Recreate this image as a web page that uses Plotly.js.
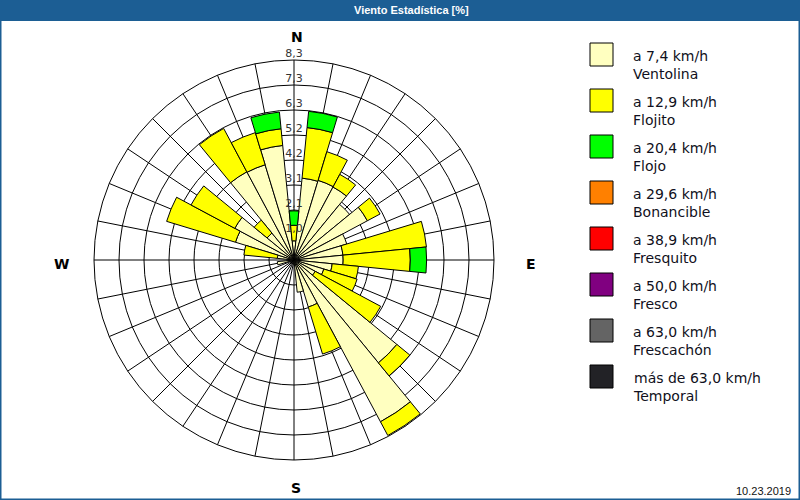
<!DOCTYPE html>
<html><head><meta charset="utf-8">
<script src="https://cdn.plot.ly/plotly-3.0.1.min.js"></script>
<style>html,body{margin:0;padding:0;background:#fff}#chart{width:800px;height:500px}</style>
</head><body><div id="chart"></div>
<script>
// ---- data ----
const directions = [0, 11.25, 22.5, 33.75, 45, 56.25, 67.5, 78.75, 90, 101.25, 112.5, 123.75, 135, 146.25, 157.5, 168.75,
                    180, 191.25, 202.5, 213.75, 225, 236.25, 247.5, 258.75, 270, 281.25, 292.5, 303.75, 315, 326.25, 337.5, 348.75];
const ventolina = [0.80, 3.43, 3.47, 3.45, 3.00, 3.47, 2.30, 2.05, 2.05, 1.60, 1.30, 1.00, 5.55, 7.65, 2.05, 1.35,
                   0.20, 0, 0, 0, 0, 0, 0, 0.70, 0.30, 0.70, 2.55, 2.80, 1.45, 4.17, 4.15, 4.80];
const flojito   = [0.65, 2.12, 1.25, 0.60, 0, 0.60, 0, 3.50, 2.80, 1.10, 1.45, 3.10, 0.70, 0.65, 2.05, 0,
                   0, 0, 0, 0, 0, 0, 0, 0, 0, 1.40, 3.00, 2.07, 0.70, 2.05, 1.40, 0.70];
const flojo     = [0.60, 0.68, 0, 0, 0, 0, 0, 0, 0.68, 0, 0, 0, 0, 0, 0, 0,
                   0, 0, 0, 0, 0, 0, 0, 0, 0, 0, 0, 0, 0, 0, 0, 0.70];

const seriesLimits = ['a 7,4 km/h', 'a 12,9 km/h', 'a 20,4 km/h', 'a 29,6 km/h', 'a 38,9 km/h', 'a 50,0 km/h', 'a 63,0 km/h', 'más de 63,0 km/h'];
const seriesNames  = ['Ventolina', 'Flojito', 'Flojo', 'Bonancible', 'Fresquito', 'Fresco', 'Frescachón', 'Temporal'];
const seriesColors = ['#ffffc0', '#ffff00', '#00ff00', '#ff8000', '#ff0000', '#800080', '#646464', '#222226'];

const radialMax = 8.34;
const radialTicks = [1.0425, 2.085, 3.1275, 4.17, 5.2125, 6.255, 7.2975, 8.34];
const radialTickText = ['1,0', '2,1', '3,1', '4,2', '5,2', '6,3', '7,3', '8,3'];

const compassText = ['N', 'E', 'S', 'W'];
const chartTitle = 'Viento Estadística [%]';
const dateText = '10.23.2019';

// ---- helpers ----
const W = 800, H = 500;
const px = x => x / W;
const py = y => 1 - y / H;
const blue = '#1c5e94';
const font = 'DejaVu Sans, Verdana, sans-serif';

const stacked = [ventolina, flojito, flojo];
const traces = stacked.map((vals, i) => ({
  type: 'barpolar',
  r: vals,
  theta: directions,
  width: 11.25,
  name: seriesNames[i],
  marker: {color: seriesColors[i], line: {color: '#000', width: 1}},
  hoverinfo: 'skip',
  showlegend: false
}));
traces.push({
  type: 'scatterpolar',
  mode: 'text',
  r: radialTicks,
  theta: radialTicks.map(() => 0),
  text: radialTickText,
  textposition: 'top center',
  textfont: {family: font, size: 11, color: '#333'},
  cliponaxis: false,
  hoverinfo: 'skip',
  showlegend: false
});

const shapes = [
  {type: 'rect', xref: 'paper', yref: 'paper', x0: 0, x1: 1, y0: py(21), y1: 1, fillcolor: blue, line: {width: 0}, layer: 'below'},
  {type: 'rect', xref: 'paper', yref: 'paper', x0: 0, x1: 1, y0: 0, y1: 1, line: {color: blue, width: 3}}
];
const annotations = [
  {text: '<b>' + chartTitle + '</b>', x: px(411), y: py(10), xref: 'paper', yref: 'paper', showarrow: false,
   xanchor: 'center', yanchor: 'middle', font: {family: 'Liberation Sans, Arial, sans-serif', size: 11, color: '#fff'}},
  {text: dateText, x: px(793), y: py(491), xref: 'paper', yref: 'paper', showarrow: false,
   xanchor: 'right', yanchor: 'middle', font: {family: 'Liberation Sans, Arial, sans-serif', size: 11, color: '#111'}}
];
const compassPos = [[297, 37], [531, 264], [296, 488], [61, 264]];
compassText.forEach((t, i) => {
  annotations.push({text: '<b>' + t + '</b>', x: px(compassPos[i][0]), y: py(compassPos[i][1]), xref: 'paper', yref: 'paper',
    showarrow: false, xanchor: 'center', yanchor: 'middle', font: {family: font, size: 14, color: '#000'}});
});
seriesNames.forEach((n, i) => {
  const top = 43 + 46 * i;
  shapes.push({type: 'rect', xref: 'paper', yref: 'paper', x0: px(590), x1: px(613), y0: py(top + 23), y1: py(top),
    fillcolor: seriesColors[i], line: {color: '#000', width: 1}});
  annotations.push({text: seriesLimits[i] + '<br>' + n, x: px(631), y: py(top + 22), xref: 'paper', yref: 'paper',
    showarrow: false, xanchor: 'left', yanchor: 'middle', align: 'left', font: {family: font, size: 14, color: '#101020'}});
});

const layout = {
  width: W, height: H,
  margin: {l: 0, r: 0, t: 0, b: 0},
  paper_bgcolor: '#fff',
  showlegend: false,
  polar: {
    domain: {x: [px(94), px(494)], y: [py(460), py(60)]},
    bgcolor: '#fff',
    barmode: 'stack',
    radialaxis: {range: [0, radialMax], tickmode: 'array', tickvals: radialTicks, showticklabels: false,
      ticks: '', showline: false, gridcolor: '#000', gridwidth: 1},
    angularaxis: {rotation: 90, direction: 'clockwise', tickmode: 'linear', tick0: 0, dtick: 11.25,
      showticklabels: false, ticks: '', showline: true, linecolor: '#000', linewidth: 1, gridcolor: '#000', gridwidth: 1}
  },
  shapes: shapes,
  annotations: annotations
};

Plotly.newPlot('chart', traces, layout, {displayModeBar: false, staticPlot: true});
</script>
</body></html>
